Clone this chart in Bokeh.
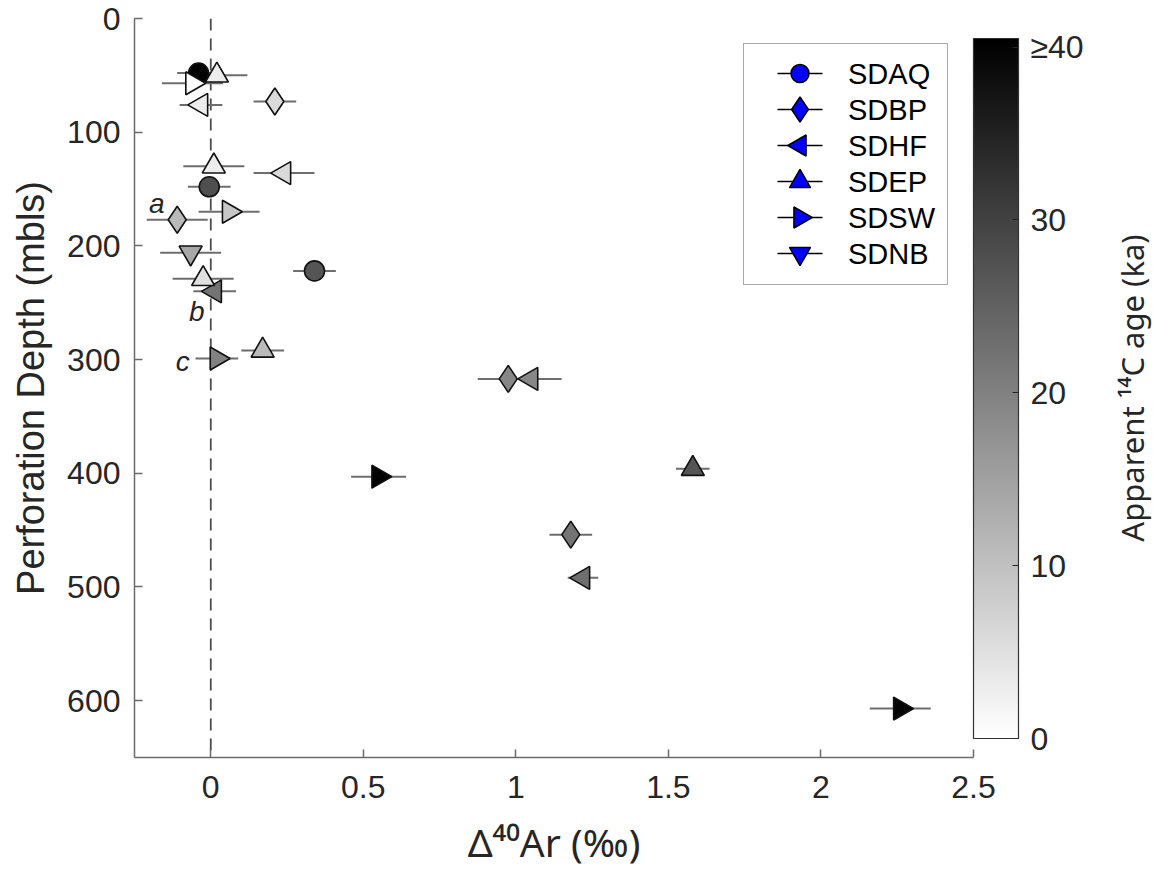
import math
from bokeh.plotting import figure
from bokeh.layouts import row
from bokeh.models import (ColumnDataSource, Range1d, FixedTicker, Span, Legend, LegendItem,
                          ColorBar, LinearColorMapper, Label, NumeralTickFormatter)
from bokeh.transform import transform
from bokeh.embed import file_html
from bokeh.resources import INLINE

# ---------------- data ----------------
x_ticks = [0, 0.5, 1, 1.5, 2, 2.5]
y_ticks = [0, 100, 200, 300, 400, 500, 600]
age_ticks = [0, 10, 20, 30, 40]

series_names = ["SDAQ", "SDBP", "SDHF", "SDEP", "SDSW", "SDNB"]

sdaq_d40ar = [-0.04, -0.005, 0.34]
sdaq_depth = [48, 148, 222]
sdaq_err = [0.07, 0.07, 0.07]
sdaq_age = [40, 28, 27]

sdbp_d40ar = [0.21, -0.11, 0.975, 1.18]
sdbp_depth = [73, 177, 317, 454]
sdbp_err = [0.07, 0.10, 0.10, 0.07]
sdbp_age = [6, 11, 19, 22]

sdhf_d40ar = [-0.032, 0.24, 0.013, 1.05, 1.22]
sdhf_depth = [76, 136, 240, 317, 492]
sdhf_err = [0.07, 0.10, 0.07, 0.10, 0.05]
sdhf_age = [3, 6, 22, 19, 23]

sdep_d40ar = [0.02, 0.01, -0.025, 0.17, 1.58]
sdep_depth = [50, 130, 229, 292, 396]
sdep_err = [0.10, 0.10, 0.10, 0.07, 0.055]
sdep_age = [3, 3, 5, 11, 27]

sdsw_d40ar = [-0.06, 0.06, 0.02, 0.55, 2.26]
sdsw_depth = [57, 170, 299, 403, 607]
sdsw_err = [0.10, 0.10, 0.07, 0.09, 0.10]
sdsw_age = [0, 9, 20, 40, 40]

sdnb_d40ar = [-0.066]
sdnb_depth = [206]
sdnb_err = [0.10]
sdnb_age = [14]

note_labels = ["a", "b", "c"]
note_x = [-0.177, -0.046, -0.092]
note_depth = [163, 258, 302]

series_data = {
    "SDAQ": (sdaq_d40ar, sdaq_depth, sdaq_err, sdaq_age),
    "SDBP": (sdbp_d40ar, sdbp_depth, sdbp_err, sdbp_age),
    "SDHF": (sdhf_d40ar, sdhf_depth, sdhf_err, sdhf_age),
    "SDEP": (sdep_d40ar, sdep_depth, sdep_err, sdep_age),
    "SDSW": (sdsw_d40ar, sdsw_depth, sdsw_err, sdsw_age),
    "SDNB": (sdnb_d40ar, sdnb_depth, sdnb_err, sdnb_age),
}

# ---------------- styles / layout ----------------
FONT = "Liberation Sans"
SUPFONT = "Noto Sans"
TXT = "#262626"
AXC = "#6b6b6b"
marker_style = {
    "SDAQ": ("circle", 0.0, 20),
    "SDBP": ("diamond", 0.0, 27),
    "SDHF": ("triangle", math.pi / 2, 23),
    "SDEP": ("triangle", 0.0, 23),
    "SDSW": ("triangle", -math.pi / 2, 23),
    "SDNB": ("inverted_triangle", 0.0, 23),
}

H = 875
X_RANGE = (-0.25, 2.5)
Y_RANGE = (650, 0)
FRAME_L, FRAME_R, FRAME_T, FRAME_B = 134, 973, 18, 757   # canvas pixels of the plot frame

def px_to_x(px):
    return X_RANGE[0] + (px - FRAME_L) * (X_RANGE[1] - X_RANGE[0]) / (FRAME_R - FRAME_L)

def px_to_depth(py):
    return Y_RANGE[1] + (py - FRAME_T) * (Y_RANGE[0] - Y_RANGE[1]) / (FRAME_B - FRAME_T)

gray = ["#%02x%02x%02x" % (v, v, v) for v in range(255, -1, -1)]
mapper = LinearColorMapper(palette=gray, low=0, high=40.5, high_color="#000000", low_color="#ffffff")

p = figure(width=1105, height=H, x_range=Range1d(*X_RANGE), y_range=Range1d(*Y_RANGE),
           output_backend="svg", toolbar_location=None,
           min_border_left=FRAME_L, min_border_right=1105 - FRAME_R,
           min_border_top=FRAME_T, min_border_bottom=H - FRAME_B)
p.outline_line_color = None
p.xgrid.visible = False
p.ygrid.visible = False

xa = p.xaxis[0]
ya = p.yaxis[0]
xa.ticker = FixedTicker(ticks=x_ticks)
xa.formatter = NumeralTickFormatter(format="0.[0]")
ya.ticker = FixedTicker(ticks=y_ticks)
xa.axis_label = "Δ⁴⁰Ar (‰)"
ya.axis_label = "Perforation Depth (mbls)"
for ax in (xa, ya):
    ax.axis_line_color = AXC
    ax.axis_line_width = 1.5
    ax.major_tick_line_color = AXC
    ax.major_tick_line_width = 1.5
    ax.major_tick_in = 8
    ax.major_tick_out = 0
    ax.minor_tick_line_color = None
    ax.major_label_text_font = FONT
    ax.major_label_text_font_size = "32px"
    ax.major_label_text_color = TXT
    ax.axis_label_text_font = FONT
    ax.axis_label_text_font_size = "38px"
    ax.axis_label_text_font_style = "normal"
    ax.axis_label_text_color = TXT
xa.axis_label_text_font = SUPFONT
xa.axis_label_text_font_size = "39px"
xa.major_label_standoff = 18
ya.major_label_standoff = 14
xa.axis_label_standoff = 14
ya.axis_label_standoff = 12

zero = Span(location=0, dimension="height", line_color="#4d4d4d", line_width=1.8,
            line_dash="12 8", level="underlay")
p.add_layout(zero)

# error bars then markers
for name in series_names:
    xs, ds, es, ages = series_data[name]
    src = ColumnDataSource(dict(x=xs, y=ds, x0=[a - e for a, e in zip(xs, es)],
                                x1=[a + e for a, e in zip(xs, es)], age=ages))
    p.segment(x0="x0", y0="y", x1="x1", y1="y", source=src, line_color="#6e6e6e", line_width=2)

for name in series_names:
    xs, ds, es, ages = series_data[name]
    mk, ang, sz = marker_style[name]
    src = ColumnDataSource(dict(x=xs, y=ds, age=ages))
    p.scatter(x="x", y="y", source=src, marker=mk, angle=ang, size=sz,
              fill_color=transform("age", mapper), line_color="#111111", line_width=1.6)

# ---------------- legend ----------------
# Bokeh draws the box and labels (transparent background); the keys (line + rotated blue
# marker) are drawn in the legend's glyph column, because Bokeh legends do not rotate markers.
LEG_MARGIN, LEG_PAD, LEG_ROW, LEG_GLYPH_W, LEG_STANDOFF, LEG_LABEL_W = 25, 12, 36, 64, 28, 86
nan = float("nan")
items = []
for name in series_names:
    rl = p.line(x=[nan, nan], y=[nan, nan], line_alpha=0)
    items.append(LegendItem(label=name, renderers=[rl]))
legend = Legend(items=items, location="top_right", margin=LEG_MARGIN, padding=LEG_PAD,
                glyph_width=LEG_GLYPH_W, glyph_height=LEG_ROW, spacing=0,
                label_standoff=LEG_STANDOFF, label_width=LEG_LABEL_W, label_height=LEG_ROW,
                label_text_font=FONT, label_text_font_size="29px", label_text_color="#000000",
                border_line_color="#555555", border_line_width=1.5, background_fill_alpha=0.0)
p.add_layout(legend)

leg_right = FRAME_R - LEG_MARGIN
leg_left = leg_right - (2 * LEG_PAD + LEG_GLYPH_W + LEG_STANDOFF + LEG_LABEL_W)
glyph_end = leg_left + LEG_PAD + LEG_GLYPH_W
key_x0, key_x1 = px_to_x(glyph_end - 45), px_to_x(glyph_end)
key_xm = px_to_x(glyph_end - 22.5)
for i, name in enumerate(series_names):
    mk, ang, sz = marker_style[name]
    ky = px_to_depth(FRAME_T + LEG_MARGIN + LEG_PAD + LEG_ROW * (i + 0.5))
    p.segment(x0=[key_x0], y0=[ky], x1=[key_x1], y1=[ky], line_color="#000000", line_width=1.5)
    p.scatter(x=[key_xm], y=[ky], marker=mk, angle=ang, size=sz - 2, fill_color="#0000ff",
              line_color="#000000", line_width=1.5)

for t, xv, dv in zip(note_labels, note_x, note_depth):
    p.add_layout(Label(x=xv, y=dv, text=t, text_align="center", text_baseline="middle",
                       text_font=FONT, text_font_size="28px", text_font_style="italic",
                       text_color=TXT))

cb = ColorBar(color_mapper=mapper, ticker=FixedTicker(ticks=age_ticks),
              major_label_overrides={40: "≥40"}, location="center_left",
              width=45, height=700, padding=0, margin=0, label_standoff=12,
              major_tick_in=6, major_tick_out=0, major_tick_line_color=TXT,
              bar_line_color="#333333", bar_line_width=1.2,
              major_label_text_font=FONT, major_label_text_font_size="32px",
              major_label_text_color=TXT, background_fill_alpha=0)
p.add_layout(cb, "right")

# narrow companion panel holding the colour-bar title (reads bottom-to-top)
p2 = figure(width=48, height=H, x_range=Range1d(0, 1), y_range=p.y_range,
            output_backend="svg", toolbar_location=None, x_axis_location=None, y_axis_location=None,
            min_border_left=0, min_border_right=0, min_border_top=FRAME_T, min_border_bottom=H - FRAME_B)
p2.outline_line_color = None
p2.xgrid.visible = False
p2.ygrid.visible = False
p2.add_layout(Label(x=0.55, y=325, text="Apparent ¹⁴C age (ka)", angle=90, angle_units="deg",
                    text_align="center", text_baseline="middle", text_font=SUPFONT,
                    text_font_size="31px", text_color=TXT))

layout = row(p, p2)
open("out.html", "w").write(file_html(layout, INLINE))
